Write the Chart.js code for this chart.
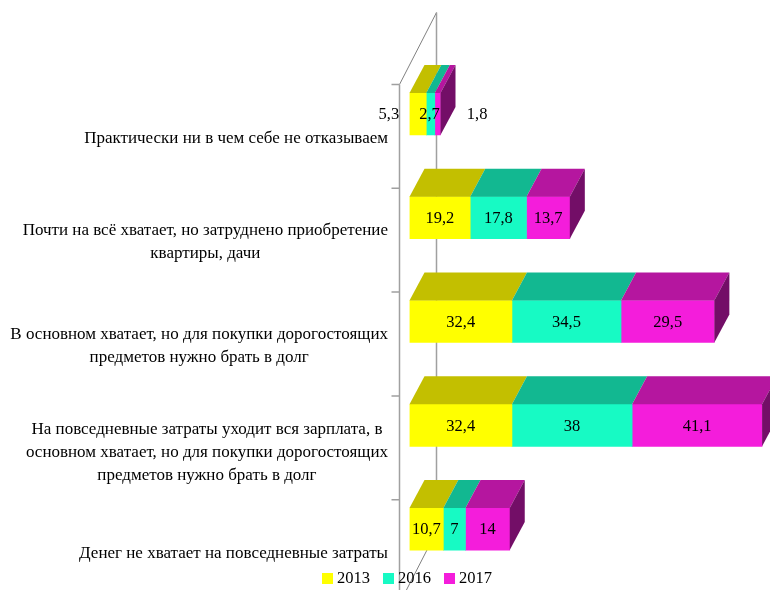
<!DOCTYPE html>
<html>
<head>
<meta charset="utf-8">
<title>Chart</title>
<script src="https://cdn.jsdelivr.net/npm/chart.js@4"></script>
<style>
  html, body { margin: 0; padding: 0; background: #fff; overflow: hidden; }
  canvas { display: block; }
</style>
</head>
<body>
<canvas id="chart" width="770" height="590"></canvas>
<script>
// --- data ---
const categories = [
  ["Практически ни в чем себе не отказываем"],
  ["Почти на всё хватает, но затруднено приобретение", "квартиры, дачи"],
  ["В основном хватает, но для покупки дорогостоящих", "предметов нужно брать в долг"],
  ["На повседневные затраты уходит вся зарплата, в", "основном хватает, но для покупки дорогостоящих", "предметов нужно брать в долг"],
  ["Денег не хватает на повседневные затраты"],
];
const seriesNames = ["2013", "2016", "2017"];
const values2013 = [5.3, 19.2, 32.4, 32.4, 10.7];
const values2016 = [2.7, 17.8, 34.5, 38, 7];
const values2017 = [1.8, 13.7, 29.5, 41.1, 14];

// --- colours: front, top and side face of each series ---
const frontColors = ["#ffff00", "#17fac4", "#f41ddb"];
const topColors = ["#c3bf00", "#12b891", "#b5169f"];
const sideColor = "#730e67";

const FONT = '"Liberation Serif", "Times New Roman", serif';
const DEPTH_X = 15; // bar depth
const DEPTH_Y = -28;
const WALL_X = 37; // depth of the "floor"
const WALL_Y = -72;
const LABEL_DROP = 22.5; // axis is shifted down from the bars
const AXIS_X = 399.5;
const firstRowShift = [-29, -1, 39.5]; // small bars, labels pushed aside
const categoryNudge = [2, 2, 2, 5, 2];

const bar3d = {
  id: "bar3d",
  // axis lines, ticks and category labels, under the bars
  beforeDatasetsDraw(chart) {
    const { ctx, scales } = chart;
    const yScale = scales.y;
    const step = yScale.getPixelForValue(1) - yScale.getPixelForValue(0);
    const axisTop = yScale.getPixelForValue(0) - step / 2 + LABEL_DROP;
    const axisBottom = axisTop + step * categories.length;

    ctx.save();
    ctx.strokeStyle = "#808080";
    ctx.lineWidth = 1;
    ctx.beginPath();
    ctx.moveTo(AXIS_X, axisTop);
    ctx.lineTo(AXIS_X + WALL_X, axisTop + WALL_Y);
    ctx.moveTo(AXIS_X, axisBottom);
    ctx.lineTo(AXIS_X + WALL_X, axisBottom + WALL_Y);
    ctx.stroke();

    ctx.strokeStyle = "#a0a0a0";
    ctx.lineWidth = 1.5;
    ctx.beginPath();
    ctx.moveTo(AXIS_X, axisTop);
    ctx.lineTo(AXIS_X, axisBottom);
    ctx.moveTo(AXIS_X + WALL_X, axisTop + WALL_Y);
    ctx.lineTo(AXIS_X + WALL_X, axisBottom + WALL_Y);
    for (let i = 0; i < categories.length; i++) {
      ctx.moveTo(AXIS_X - 8, axisTop + step * i);
      ctx.lineTo(AXIS_X, axisTop + step * i);
    }
    ctx.stroke();

    // each block hangs from the right edge, its lines centred inside it
    ctx.fillStyle = "#000";
    ctx.font = "17px " + FONT;
    ctx.textAlign = "center";
    ctx.textBaseline = "middle";
    categories.forEach((lines, i) => {
      const widest = Math.max(...lines.map((l) => ctx.measureText(l).width));
      const cx = 388 - widest / 2;
      const cy = yScale.getPixelForValue(i) + LABEL_DROP + categoryNudge[i];
      lines.forEach((line, n) => {
        ctx.fillText(line, cx, cy + (n - (lines.length - 1) / 2) * 23);
      });
    });
    ctx.restore();
  },
  // top and side faces, data labels and the legend, over the bars
  afterDatasetsDraw(chart) {
    const { ctx } = chart;
    const last = chart.data.datasets.length - 1;

    ctx.save();
    chart.data.datasets.forEach((ds, d) => {
      chart.getDatasetMeta(d).data.forEach((bar) => {
        const top = bar.y - bar.height / 2;
        const bottom = bar.y + bar.height / 2;
        ctx.fillStyle = topColors[d];
        ctx.beginPath();
        ctx.moveTo(bar.base, top);
        ctx.lineTo(bar.base + DEPTH_X, top + DEPTH_Y);
        ctx.lineTo(bar.x + DEPTH_X, top + DEPTH_Y);
        ctx.lineTo(bar.x, top);
        ctx.closePath();
        ctx.fill();
        if (d === last) {
          ctx.fillStyle = sideColor;
          ctx.beginPath();
          ctx.moveTo(bar.x, top);
          ctx.lineTo(bar.x + DEPTH_X, top + DEPTH_Y);
          ctx.lineTo(bar.x + DEPTH_X, bottom + DEPTH_Y);
          ctx.lineTo(bar.x, bottom);
          ctx.closePath();
          ctx.fill();
        }
      });
    });

    ctx.fillStyle = "#000";
    ctx.font = "16.5px " + FONT;
    ctx.textAlign = "center";
    ctx.textBaseline = "middle";
    chart.data.datasets.forEach((ds, d) => {
      chart.getDatasetMeta(d).data.forEach((bar, i) => {
        const shift = i === 0 ? firstRowShift[d] : 0;
        const text = String(ds.data[i]).replace(".", ",");
        ctx.fillText(text, (bar.base + bar.x) / 2 + shift, bar.y + 1);
      });
    });

    ctx.textAlign = "left";
    seriesNames.forEach((name, d) => {
      const x = 322 + d * 61;
      ctx.fillStyle = frontColors[d];
      ctx.fillRect(x, 573, 11, 11);
      ctx.fillStyle = "#000";
      ctx.fillText(name, x + 15, 579);
    });
    ctx.restore();
  },
};

new Chart(document.getElementById("chart").getContext("2d"), {
  type: "bar",
  data: {
    labels: categories,
    datasets: [
      { label: seriesNames[0], data: values2013, backgroundColor: frontColors[0] },
      { label: seriesNames[1], data: values2016, backgroundColor: frontColors[1] },
      { label: seriesNames[2], data: values2017, backgroundColor: frontColors[2] },
    ],
  },
  options: {
    responsive: false,
    animation: false,
    indexAxis: "y",
    barThickness: 42,
    layout: { padding: { top: 62, bottom: 9 } },
    scales: {
      x: { stacked: true, display: false, min: 0, max: 114 },
      y: {
        stacked: true,
        grid: { display: false },
        border: { display: false },
        ticks: { display: false },
        afterFit(scale) {
          scale.width = 409.5;
        },
      },
    },
    plugins: {
      legend: { display: false },
      tooltip: { enabled: false },
    },
  },
  plugins: [bar3d],
});
</script>
</body>
</html>
